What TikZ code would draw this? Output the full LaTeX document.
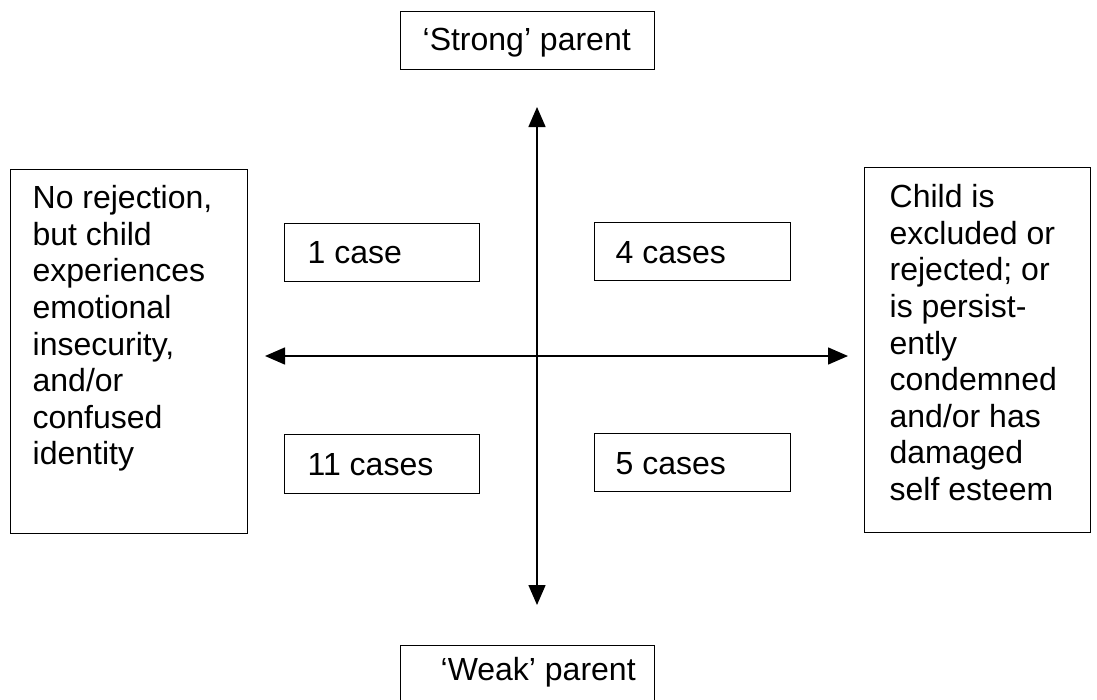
\documentclass[tikz,border=0pt]{standalone}
\usepackage{fontspec}
\setmainfont{Liberation Sans}
\usetikzlibrary{arrows.meta}
\newcommand{\boxtxt}[5]{\parbox[t][#2][t]{#1}{\raggedright\leftskip=#3\relax\vspace*{#4}\strut #5}}
\begin{document}
\begin{tikzpicture}[x=1pt,y=-1pt,
  box/.style={draw, line width=1.3pt, inner sep=0pt, anchor=north west, font=\fontsize{32}{36.6}\selectfont},
  axis/.style={line width=1.5pt, {Triangle[length=20pt,width=17pt]}-{Triangle[length=20pt,width=17pt]}}]
\useasboundingbox (0,0) rectangle (1097,699);
\node[box] (strong) at (400,11) {\boxtxt{254pt}{58pt}{22pt}{13.5pt}{‘Strong’ parent}};
\node[box] (weak) at (400,645) {\boxtxt{254pt}{62pt}{40pt}{9.5pt}{‘Weak’ parent}};
\node[box] (left) at (10,169) {\boxtxt{237pt}{364pt}{22pt}{13.5pt}{No rejection,\\ but child\\ experiences\\ emotional\\ insecurity,\\ and/or\\ confused\\ identity}};
\node[box] (right) at (864,167) {\boxtxt{226pt}{365pt}{25pt}{14.5pt}{Child is\\ excluded or\\ rejected; or\\ is persist-\\ ently\\ condemned\\ and/or has\\ damaged\\ self esteem}};
\node[box] (q1) at (284,223) {\boxtxt{195pt}{58pt}{23pt}{14.5pt}{1 case}};
\node[box] (q4) at (594,222) {\boxtxt{196pt}{58pt}{21pt}{15.5pt}{4 cases}};
\node[box] (q11) at (284,434) {\boxtxt{195pt}{59pt}{23pt}{15.5pt}{11 cases}};
\node[box] (q5) at (594,433) {\boxtxt{196pt}{58pt}{21pt}{15.5pt}{5 cases}};
\coordinate (ntip) at (537,107);
\coordinate (stip) at (537,605);
\coordinate (wtip) at (265,356);
\coordinate (etip) at (848,356);
\draw[axis] (ntip) -- (stip);
\draw[axis] (wtip) -- (etip);
\end{tikzpicture}
\end{document}
